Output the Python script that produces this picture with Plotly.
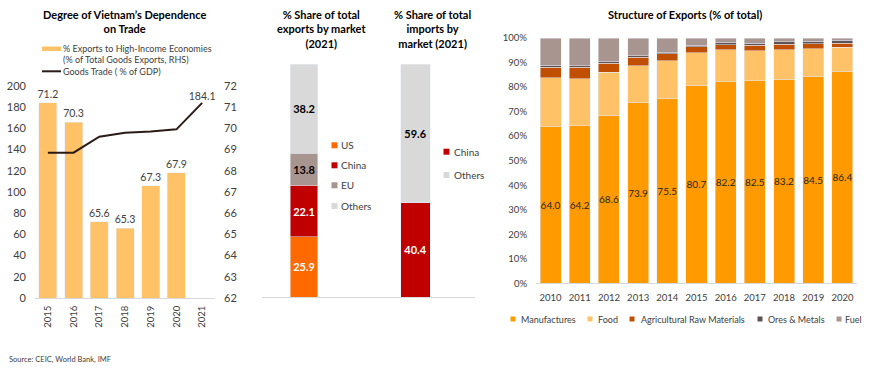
import plotly.graph_objects as go

W, H = 870, 368


def px(x):
    return x / W


def py(y):
    return 1 - y / H


FONT = "Lato"
TXT = "#404040"

# ---------------- data ----------------
years1 = ["2015", "2016", "2017", "2018", "2019", "2020", "2021"]
high_income_share = [71.2, 70.3, 65.6, 65.3, 67.3, 67.9, None]
goods_trade_gdp = [137.1, 137.1, 152.2, 156.0, 157.0, 159.1, 184.1]
goods_trade_labels = ["", "", "", "", "", "", "184.1"]

exp_markets = ["US", "China", "EU", "Others"]
exp_shares = [25.9, 22.1, 13.8, 38.2]
imp_markets = ["China", "Others"]
imp_shares = [40.4, 59.6]

years4 = ["2010", "2011", "2012", "2013", "2014", "2015", "2016", "2017", "2018", "2019", "2020"]
manufactures = [64.0, 64.2, 68.6, 73.9, 75.5, 80.7, 82.2, 82.5, 83.2, 84.5, 86.4]
food = [19.8, 19.2, 17.4, 14.8, 15.2, 13.3, 13.0, 12.3, 12.1, 11.1, 9.8]
agri_raw = [4.2, 4.6, 3.8, 3.5, 2.8, 2.4, 2.1, 2.2, 2.1, 2.1, 1.7]
ores_metals = [0.8, 0.6, 0.5, 0.6, 0.5, 0.6, 0.7, 0.8, 1.0, 0.9, 1.1]
fuel = [11.2, 11.4, 9.7, 7.2, 6.0, 3.0, 2.0, 2.2, 1.6, 1.4, 1.0]

BAR1_COLOR = "#FFC266"
LINE1_COLOR = "#2B1B17"
market_colors = {"US": "#FF6A00", "China": "#C00000", "EU": "#A99590", "Others": "#D9D9D9"}
market_text = {"US": "white", "China": "white", "EU": "black", "Others": "black"}
struct_names = ["Manufactures", "Food", "Agricultural Raw Materials", "Ores & Metals", "Fuel"]
struct_colors = ["#FF9A00", "#FFC266", "#C04F00", "#5E5354", "#A99590"]

fig = go.Figure()

# ---------------- panel 1 ----------------
# bars on the right-hand axis (primary y, drawn first), line on overlaying left axis (on top)
fig.add_trace(go.Bar(
    x=years1, y=high_income_share, xaxis="x", yaxis="y",
    name="% Exports to High-Income Economies (% of Total Goods Exports, RHS)",
    marker=dict(color=BAR1_COLOR), width=0.7,
    text=[f"{v:.1f}" if v is not None else "" for v in high_income_share],
    textposition="outside", constraintext="none", cliponaxis=False,
    textfont=dict(size=10.5, color=TXT, family=FONT), showlegend=False,
))
fig.add_trace(go.Scatter(
    x=years1, y=goods_trade_gdp, xaxis="x", yaxis="y2",
    mode="lines+text", name="Goods Trade ( % of GDP)",
    line=dict(color=LINE1_COLOR, width=2),
    text=goods_trade_labels, textposition="top center",
    textfont=dict(size=10.5, color=TXT, family=FONT), cliponaxis=False,
    showlegend=False,
))

# ---------------- panel 2: exports ----------------
for m, v in zip(exp_markets, exp_shares):
    fig.add_trace(go.Bar(
        x=["2021"], y=[v], xaxis="x3", yaxis="y3", name=m,
        marker=dict(color=market_colors[m]), width=0.333,
        text=[f"<b>{v:.1f}</b>"], textposition="inside", insidetextanchor="middle",
        constraintext="none", textangle=0,
        insidetextfont=dict(size=11, color=market_text[m], family=FONT),
        showlegend=False,
    ))

# ---------------- panel 3: imports ----------------
for m, v in zip(imp_markets, imp_shares):
    fig.add_trace(go.Bar(
        x=["2021"], y=[v], xaxis="x4", yaxis="y4", name=m,
        marker=dict(color=market_colors[m]), width=0.225,
        text=[f"<b>{v:.1f}</b>"], textposition="inside", insidetextanchor="middle",
        constraintext="none", textangle=0,
        insidetextfont=dict(size=11, color=market_text[m], family=FONT),
        showlegend=False,
    ))

# ---------------- panel 4 ----------------
struct_values = [manufactures, food, agri_raw, ores_metals, fuel]
for i, (name, vals, col) in enumerate(zip(struct_names, struct_values, struct_colors)):
    lab = i == 0
    fig.add_trace(go.Bar(
        x=years4, y=vals, xaxis="x5", yaxis="y5", name=name,
        marker=dict(color=col), width=0.72,
        text=[f"{v:.1f}" for v in vals] if lab else None,
        textposition="inside" if lab else "none", insidetextanchor="middle",
        constraintext="none", textangle=0,
        insidetextfont=dict(size=10, color="#262626", family=FONT),
        showlegend=False,
    ))

axis_font = dict(size=11, color=TXT, family=FONT)
small_axis_font = dict(size=9.5, color=TXT, family=FONT)
fig.update_layout(
    width=W, height=H, margin=dict(l=0, r=0, t=0, b=0, autoexpand=False),
    paper_bgcolor="white", plot_bgcolor="white",
    font=dict(family=FONT, size=11, color=TXT),
    barmode="stack", showlegend=False,
    xaxis=dict(domain=[px(35), px(215)], anchor="y", type="category",
               tickangle=-90, showline=True, linecolor="#D9D9D9", linewidth=1,
               ticks="", tickfont=small_axis_font, showgrid=False, zeroline=False,
               ticklabelstandoff=3),
    yaxis=dict(domain=[py(298), py(86)], anchor="x", side="right", range=[62, 72], dtick=1,
               showgrid=False, zeroline=False, showline=False, tickfont=axis_font,
               ticklabelstandoff=8),
    yaxis2=dict(domain=[py(298), py(86)], overlaying="y", side="left", anchor="x",
                range=[0, 200], dtick=20, showgrid=False, zeroline=False,
                tickfont=axis_font, ticklabelstandoff=8),
    xaxis3=dict(domain=[px(262), px(346)], anchor="y3", type="category",
                range=[-0.5, 0.5], showticklabels=False, ticks="",
                showline=True, linecolor="#D9D9D9", showgrid=False, zeroline=False),
    yaxis3=dict(domain=[py(297), py(64.3)], anchor="x3", range=[0, 100], visible=False),
    xaxis4=dict(domain=[px(346), px(475)], anchor="y4", type="category",
                range=[-0.5388, 0.4612], showticklabels=False, ticks="",
                showline=True, linecolor="#D9D9D9", showgrid=False, zeroline=False),
    yaxis4=dict(domain=[py(297), py(64.3)], anchor="x4", range=[0, 100], visible=False),
    xaxis5=dict(domain=[px(536), px(857)], anchor="y5", type="category",
                showline=True, linecolor="#D9D9D9", ticks="", tickfont=small_axis_font,
                tickangle=0, showgrid=False, zeroline=False, ticklabelstandoff=5),
    yaxis5=dict(domain=[py(283.3), py(38)], anchor="x5", range=[0, 100], dtick=10,
                ticksuffix="%", showgrid=False, zeroline=False, tickfont=small_axis_font,
                ticklabelstandoff=8),
)


def leg_text(text, x, y, size=9):
    fig.add_annotation(text=text, x=px(x), y=py(y), xref="paper", yref="paper",
                       xanchor="left", yanchor="middle", showarrow=False,
                       font=dict(size=size, color=TXT, family=FONT))


def leg_square(color, cx, cy, s=5):
    fig.add_shape(type="rect", xref="paper", yref="paper",
                  x0=px(cx - s / 2), x1=px(cx + s / 2), y0=py(cy + s / 2), y1=py(cy - s / 2),
                  fillcolor=color, line=dict(width=0))


# legend panel 1
fig.add_shape(type="rect", xref="paper", yref="paper", x0=px(42), x1=px(61),
              y0=py(51), y1=py(46.5), fillcolor=BAR1_COLOR, line=dict(width=0))
fig.add_shape(type="line", xref="paper", yref="paper", x0=px(42), x1=px(61),
              y0=py(71.3), y1=py(71.3), line=dict(color=LINE1_COLOR, width=2))
leg_text("% Exports to High-Income Economies", 61, 48.7)
leg_text("(% of Total Goods Exports, RHS)", 61, 59.7)
leg_text("Goods Trade ( % of GDP)", 61, 71)

# legend panel 2
for m, cy in zip(exp_markets, [145.3, 165.3, 185.3, 206]):
    leg_square(market_colors[m], 334.5, cy, 6)
    leg_text(m, 339, cy, 10)

# legend panel 3
for m, cy in zip(imp_markets, [151.7, 175]):
    leg_square(market_colors[m], 446.5, cy, 6)
    leg_text(m, 452, cy, 10)

# legend panel 4
for name, col, sx, tx in zip(struct_names, struct_colors,
                             [513, 590, 632, 760, 839], [519, 596, 639, 766, 843]):
    leg_square(col, sx, 319)
    leg_text(name, tx, 319)

titles = [
    ("<b>Degree of Vietnam\u2019s Dependence<br>on Trade</b>", 125, 6),
    ("<b>% Share of total<br>exports by market<br>(2021)</b>", 321, 6),
    ("<b>% Share of total<br>imports by<br>market (2021)</b>", 432, 6),
    ("<b>Structure of Exports (% of total)</b>", 685, 6),
]
for t, x, y in titles:
    fig.add_annotation(text=t, x=px(x), y=py(y), xref="paper", yref="paper",
                       xanchor="center", yanchor="top", showarrow=False,
                       font=dict(size=11, color="black", family=FONT))
fig.add_annotation(text="Source: CEIC, World Bank, IMF", x=px(7), y=py(359),
                   xref="paper", yref="paper", xanchor="left", yanchor="middle",
                   showarrow=False, font=dict(size=7.5, color=TXT, family=FONT))

fig.write_html("out.html", config={"displayModeBar": False},
               post_script="document.body.style.margin='0px';")
